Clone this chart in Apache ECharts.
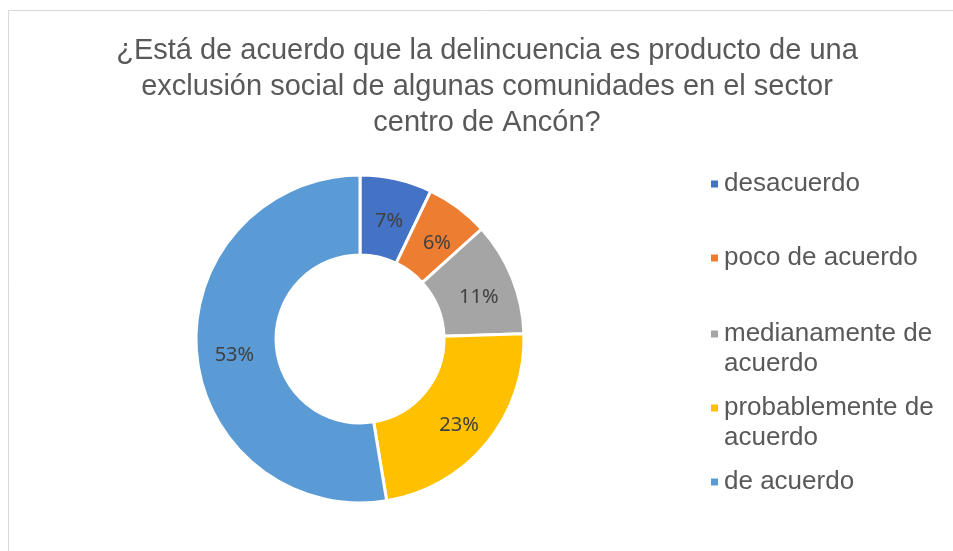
<!DOCTYPE html>
<html>
<head>
<meta charset="utf-8">
<title>Donut</title>
<script src="https://cdn.jsdelivr.net/npm/echarts@6/dist/echarts.min.js"></script>
<style>
html, body { margin: 0; padding: 0; background: #fff; }
#chart { width: 953px; height: 551px; }
</style>
</head>
<body>
<div id="chart"></div>
<script>
// categorias y valores (porcentajes)
var categorias = ['desacuerdo', 'poco de acuerdo', 'medianamente de acuerdo', 'probablemente de acuerdo', 'de acuerdo'];
var etiquetas = ['desacuerdo', 'poco de acuerdo', 'medianamente de\nacuerdo', 'probablemente de\nacuerdo', 'de acuerdo'];
var valores = [7.1, 6.2, 11.2, 22.9, 52.6];
var colores = ['#4472c4', '#ed7d31', '#a5a5a5', '#ffc000', '#5b9bd5'];

var chart = echarts.init(document.getElementById('chart'));

// una leyenda por elemento para fijar la posicion de cada uno
var centros = [184, 258, 334, 408, 482];
var LH = 30;
var leyendas = [];
for (var i = 0; i < categorias.length; i++) {
  var dosLineas = etiquetas[i].indexOf('\n') >= 0;
  // con dos lineas se agrega una linea vacia arriba para que el cuadro quede en la primera
  var texto = dosLineas ? ' \n' + etiquetas[i] : etiquetas[i];
  leyendas.push({
    show: true,
    orient: 'vertical',
    left: 709,
    top: centros[i] - (dosLineas ? LH * 1.5 : LH / 2),
    padding: 0,
    itemWidth: 9,
    itemHeight: 9,
    icon: 'rect',
    selectedMode: false,
    data: [categorias[i]],
    formatter: (function (t) { return function () { return t; }; })(texto),
    textStyle: {
      fontFamily: 'Liberation Sans, Arial, sans-serif',
      fontSize: 26,
      color: '#595959',
      lineHeight: LH
    }
  });
}

var datos = categorias.map(function (c, i) {
  return { name: c, value: valores[i], itemStyle: { color: colores[i] } };
});

chart.setOption({
  animation: false,
  title: {
    text: '¿Está de acuerdo que la delincuencia es producto de una\nexclusión social de algunas comunidades en el sector\ncentro de Ancón?',
    left: 487,
    top: 33,
    padding: 0,
    textAlign: 'center',
    textStyle: {
      fontFamily: 'Liberation Sans, Arial, sans-serif',
      fontWeight: 'normal',
      fontSize: 29,
      lineHeight: 36,
      color: '#595959'
    }
  },
  graphic: [{
    type: 'rect',
    shape: { x: 8.5, y: 10.5, width: 1000, height: 600 },
    style: { fill: 'none', stroke: '#d9d9d9', lineWidth: 1 },
    silent: true
  }],
  legend: leyendas,
  series: [{
    type: 'pie',
    center: [360, 339],
    radius: [84, 164],
    startAngle: 90,
    clockwise: true,
    avoidLabelOverlap: false,
    itemStyle: { borderColor: '#ffffff', borderWidth: 3 },
    label: {
      show: true,
      position: 'inside',
      offset: [1, 6],
      fontFamily: 'Noto Sans, sans-serif',
      fontSize: 20,
      color: '#404040',
      formatter: function (p) { return Math.round(p.percent) + '%'; }
    },
    labelLine: { show: false },
    emphasis: { disabled: true },
    data: datos
  }]
});
</script>
</body>
</html>
